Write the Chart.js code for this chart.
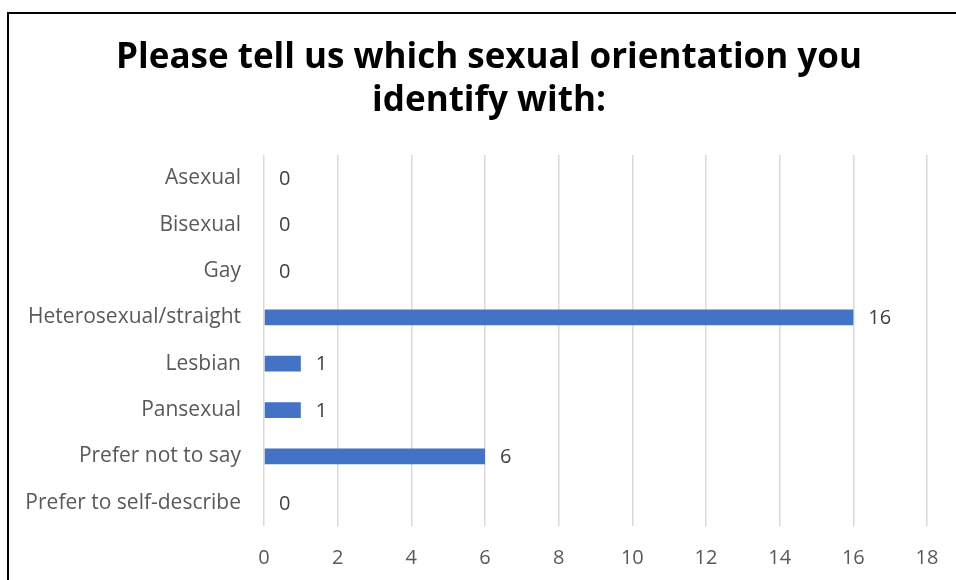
<!DOCTYPE html>
<html>
<head>
<meta charset="utf-8">
<script src="https://cdn.jsdelivr.net/npm/chart.js@4"></script>
<style>
  html, body { margin: 0; padding: 0; width: 956px; height: 580px; overflow: hidden; background: #fff; }
  #frame { position: absolute; left: 7px; top: 12px; width: 1000px; height: 620px; border: 2px solid #000; background: #fff; }
  #wrap { position: absolute; left: 8px; top: 14px; width: 962px; height: 566px; }
</style>
</head>
<body>
<div id="frame"></div>
<div id="wrap"><canvas id="orientChart"></canvas></div>
<script>
// survey answers
var categories = ['Asexual', 'Bisexual', 'Gay', 'Heterosexual/straight', 'Lesbian', 'Pansexual', 'Prefer not to say', 'Prefer to self-describe'];
var counts = [0, 0, 0, 16, 1, 1, 6, 0];
var tickValues = [0, 2, 4, 6, 8, 10, 12, 14, 16, 18];
var titleLines = ['Please tell us which sexual orientation you', 'identify with:'];

var labelFont = '"Open Sans", sans-serif';

// title centred on the whole frame rather than on the plot box
var frameTitle = {
	id: 'frameTitle',
	afterDraw: function(chart) {
		var ctx = chart.ctx;
		ctx.save();
		ctx.font = 'bold 35px ' + labelFont;
		ctx.fillStyle = '#000';
		ctx.textAlign = 'center';
		ctx.textBaseline = 'middle';
		titleLines.forEach(function(line, i) {
			ctx.fillText(line, chart.width / 2, 44 + i * 43);
		});
		ctx.restore();
	}
};

// writes the count just past the end of each bar
var valueLabels = {
	id: 'valueLabels',
	afterDatasetsDraw: function(chart) {
		var ctx = chart.ctx;
		var meta = chart.getDatasetMeta(0);
		ctx.save();
		ctx.font = '20px ' + labelFont;
		ctx.fillStyle = '#404040';
		ctx.textAlign = 'left';
		ctx.textBaseline = 'middle';
		meta.data.forEach(function(bar, i) {
			ctx.fillText(String(counts[i]), bar.x + 15, bar.y + 1);
		});
		ctx.restore();
	}
};

var chartArea = document.getElementById('orientChart').getContext('2d');
var myChart = new Chart(chartArea, {
	type: 'bar',
	data: {
		labels: categories,
		datasets: [{
			data: counts,
			backgroundColor: '#4472C4',
			borderWidth: 0,
			barPercentage: 0.34,
			categoryPercentage: 1
		}]
	},
	options: {
		indexAxis: 'y',
		responsive: true,
		maintainAspectRatio: false,
		animation: false,
		layout: { padding: { left: 8, right: 43, top: 141, bottom: 0 } },
		plugins: {
			legend: { display: false },
			tooltip: { enabled: false },
			title: { display: false }
		},
		scales: {
			x: {
				min: 0,
				max: 18,
				afterBuildTicks: function(scale) {
					scale.ticks = tickValues.map(function(v) { return { value: v }; });
				},
				grid: { color: '#d9d9d9', lineWidth: 1.5, drawTicks: false },
				border: { display: false },
				ticks: { color: '#595959', font: { family: labelFont, size: 20 }, padding: 20 },
				afterFit: function(scale) { scale.height = 54; }
			},
			y: {
				grid: { display: false, drawTicks: false },
				border: { display: false },
				ticks: { color: '#595959', font: { family: labelFont, size: 21 }, padding: 23 },
				afterFit: function(scale) { scale.width = 248; }
			}
		}
	},
	plugins: [valueLabels, frameTitle]
});
</script>
</body>
</html>
